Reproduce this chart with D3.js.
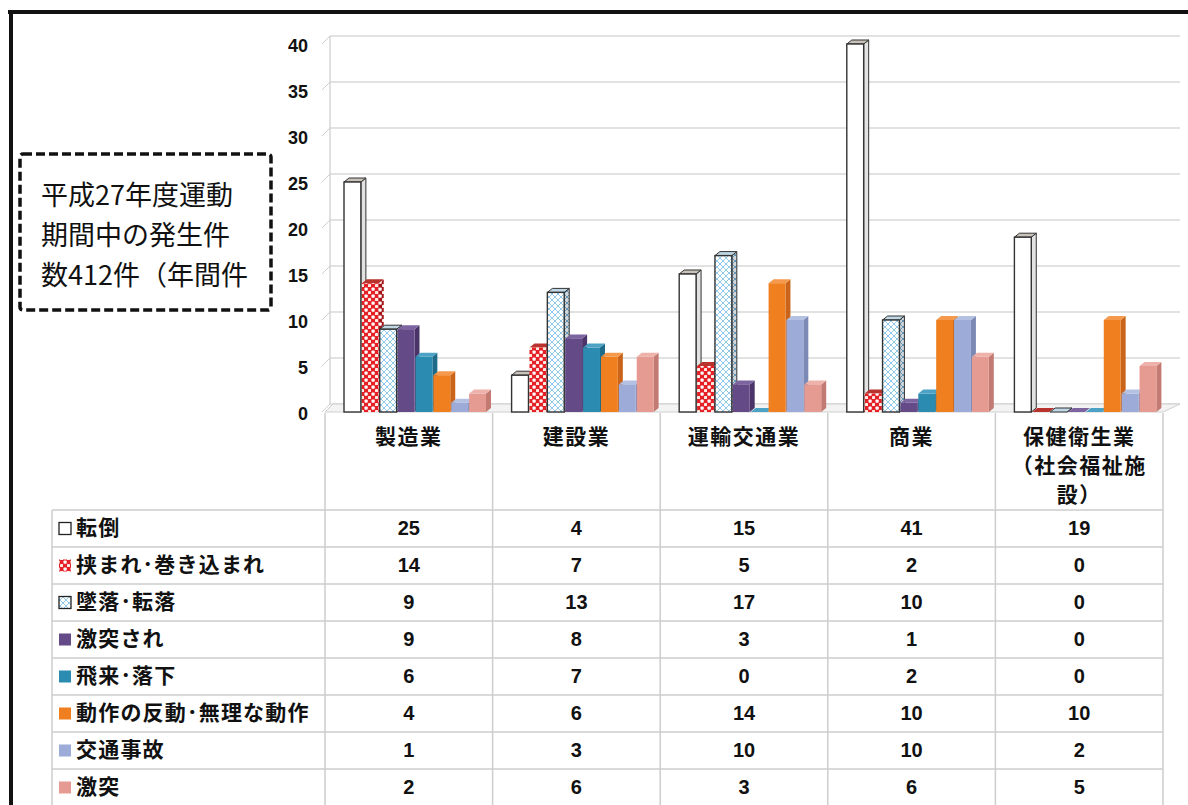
<!DOCTYPE html>
<html>
<head>
<meta charset="utf-8">
<script src="https://cdn.jsdelivr.net/npm/d3@7"></script>
<style>
  body { margin: 0; background: #fff; }
  svg { display: block; }
  text { font-family: "Noto Sans CJK JP", "Liberation Sans", sans-serif; fill: #111; }
  .num { font-family: "Liberation Sans Narrow", "Liberation Sans", "Noto Sans CJK JP", sans-serif; font-weight: bold; }
</style>
</head>
<body>
<svg id="chart" width="1188" height="805"></svg>
<script>
// data
const categories = ["製造業", "建設業", "運輸交通業", "商業", "保健衛生業（社会福祉施設）"];
const categoryLines = [["製造業"], ["建設業"], ["運輸交通業"], ["商業"], ["保健衛生業", "（社会福祉施", "設）"]];
const seriesNames = ["転倒", "挟まれ･巻き込まれ", "墜落･転落", "激突され", "飛来･落下", "動作の反動･無理な動作", "交通事故", "激突"];

const tentou   = [25, 4, 15, 41, 19];
const hasamare = [14, 7, 5, 2, 0];
const tsuiraku = [9, 13, 17, 10, 0];
const gekitotsuSare = [9, 8, 3, 1, 0];
const hirai    = [6, 7, 0, 2, 0];
const dousa    = [4, 6, 14, 10, 10];
const koutsuu  = [1, 3, 10, 10, 2];
const gekitotsu = [2, 6, 3, 6, 5];

const seriesValues = [tentou, hasamare, tsuiraku, gekitotsuSare, hirai, dousa, koutsuu, gekitotsu];

const titleLines = ["平成27年度運動", "期間中の発生件", "数412件（年間件"];

// fill styles: [front, side, top]
const styles = [
  ["#ffffff", "#e2e2e2", "#c9c2bb"],
  ["url(#dots)", "url(#dotsDark)", "#b8322e"],
  ["url(#hatch)", "url(#hatchDark)", "#c0d8e6"],
  ["#654a88", "#4b3468", "#7c64a0"],
  ["#2c8bb1", "#1e6a89", "#4ba2c4"],
  ["#f0801f", "#c9641a", "#f59a4c"],
  ["#9cabd7", "#7b89b5", "#b5c1e2"],
  ["#e59a92", "#c27a72", "#eeb2ab"]
];
const outlined = [true, false, true, false, false, false, false, false];

const svg = d3.select("#chart");
const defs = svg.append("defs");

// red with white dots
function dotPattern(id, bg) {
  const p = defs.append("pattern").attr("id", id).attr("patternUnits", "userSpaceOnUse")
    .attr("width", 7).attr("height", 7);
  p.append("rect").attr("width", 7).attr("height", 7).attr("fill", bg);
  p.append("rect").attr("x", 0.5).attr("y", 0.5).attr("width", 3.2).attr("height", 3.2).attr("rx", 0.8).attr("fill", "#fff");
  p.append("rect").attr("x", 4).attr("y", 4).attr("width", 3.2).attr("height", 3.2).attr("rx", 0.8).attr("fill", "#ffe9e0");
}
dotPattern("dots", "#e41f26");
dotPattern("dotsDark", "#a3161b");

// light blue lattice
function hatchPattern(id, bg, line) {
  const p = defs.append("pattern").attr("id", id).attr("patternUnits", "userSpaceOnUse")
    .attr("width", 6).attr("height", 6);
  p.append("rect").attr("width", 6).attr("height", 6).attr("fill", bg);
  p.append("path").attr("d", "M0,0L6,6M6,0L0,6").attr("stroke", line).attr("stroke-width", 0.9);
}
hatchPattern("hatch", "#ffffff", "#86c3e6");
hatchPattern("hatchDark", "#cfd6dc", "#5c8fae");

// outer frame
svg.append("line").attr("x1", 8).attr("x2", 1188).attr("y1", 12).attr("y2", 12)
  .attr("stroke", "#111").attr("stroke-width", 4);
svg.append("line").attr("x1", 11).attr("x2", 11).attr("y1", 10).attr("y2", 805)
  .attr("stroke", "#111").attr("stroke-width", 4);

// scales
const y = d3.scaleLinear().domain([0, 40]).range([412, 44]).clamp(true);
const x0 = d3.scaleBand().domain(categories).range([325, 1163]);
const x1 = d3.scaleBand().domain(seriesNames).range([19, 162]);
const depth = { dx: 8, dy: -8 };
const barDepth = { dx: 5, dy: -4 };

// back wall + gridlines
const grid = svg.append("g");
grid.selectAll("line.grid").data(y.ticks(8)).join("line")
  .attr("x1", 330).attr("x2", 1180)
  .attr("y1", d => y(d) + depth.dy).attr("y2", d => y(d) + depth.dy)
  .attr("stroke", "#d9d9d9").attr("stroke-width", 1.3);
grid.selectAll("line.tick").data(y.ticks(8)).join("line")
  .attr("x1", 322).attr("x2", 330)
  .attr("y1", d => y(d)).attr("y2", d => y(d) + depth.dy)
  .attr("stroke", "#cfcfcf");
grid.append("line").attr("x1", 330).attr("x2", 330)
  .attr("y1", y(40) + depth.dy).attr("y2", y(0) + depth.dy)
  .attr("stroke", "#d0d0d0").attr("stroke-width", 1.3);

// floor
svg.append("polygon")
  .attr("points", [[325, y(0)], [1163, y(0)], [1163 + 17, y(0) + depth.dy], [325 + depth.dx, y(0) + depth.dy]].join(" "))
  .attr("fill", "#f3f3f3").attr("stroke", "#cfcfcf");

// y labels
svg.append("g").selectAll("text").data(y.ticks(8)).join("text")
  .attr("x", 308).attr("y", d => y(d) + 3)
  .attr("text-anchor", "end").attr("dominant-baseline", "middle")
  .style("font-family", "'Liberation Sans', sans-serif").attr("font-weight", "bold")
  .style("font-size", "18px").text(d => d);

// bars
const barsG = svg.append("g");
categories.forEach((cat, ci) => {
  seriesNames.forEach((s, si) => {
    const v = seriesValues[si][ci];
    const x = x0(cat) + x1(s);
    const w = x1.bandwidth() - 1;
    const yt = y(v), yb = y(0);
    const st = styles[si];
    const stroke = outlined[si] ? "#333" : "none";
    const g = barsG.append("g");
    g.append("polygon")
      .attr("points", [[x + w, yt], [x + w + barDepth.dx, yt + barDepth.dy], [x + w + barDepth.dx, yb + barDepth.dy], [x + w, yb]].join(" "))
      .attr("fill", st[1]).attr("stroke", stroke).attr("stroke-width", 1);
    g.append("polygon")
      .attr("points", [[x, yt], [x + barDepth.dx, yt + barDepth.dy], [x + w + barDepth.dx, yt + barDepth.dy], [x + w, yt]].join(" "))
      .attr("fill", st[2]).attr("stroke", stroke).attr("stroke-width", 1);
    g.append("rect")
      .attr("x", x).attr("y", yt).attr("width", w).attr("height", Math.max(0, yb - yt))
      .attr("fill", st[0]).attr("stroke", stroke).attr("stroke-width", outlined[si] ? 1.4 : 0);
  });
});

// data table
const rowTop = 510, rowH = 37;
const table = svg.append("g");
const lineColor = "#cdcdcd";
d3.range(seriesNames.length + 1).forEach(i => {
  table.append("line").attr("x1", 52).attr("x2", 1163)
    .attr("y1", rowTop + i * rowH).attr("y2", rowTop + i * rowH)
    .attr("stroke", lineColor).attr("stroke-width", 1.5);
});
table.append("line").attr("x1", 52).attr("x2", 52).attr("y1", rowTop).attr("y2", 805)
  .attr("stroke", lineColor).attr("stroke-width", 1.5);
[...categories.map(c => x0(c)), 1163].forEach(xv => {
  table.append("line").attr("x1", xv).attr("x2", xv).attr("y1", 413).attr("y2", 805)
    .attr("stroke", lineColor).attr("stroke-width", 1.5);
});

// category labels
categories.forEach((c, ci) => {
  const cx = x0(c) + x0.bandwidth() / 2;
  table.append("text").attr("x", cx).attr("y", 438)
    .attr("text-anchor", "middle").attr("dominant-baseline", "middle")
    .attr("font-size", 21).attr("font-weight", "bold").attr("letter-spacing", 1.5)
    .selectAll("tspan").data(categoryLines[ci]).join("tspan")
    .attr("x", cx).attr("dy", (d, i) => i === 0 ? 0 : 29).text(d => d);
});

// legend rows
seriesNames.forEach((s, si) => {
  const cy = rowTop + si * rowH + rowH / 2;
  const st = styles[si];
  table.append("rect").attr("x", 59).attr("y", cy - 6).attr("width", 12).attr("height", 12)
    .attr("fill", st[0]).attr("stroke", outlined[si] ? "#222" : "none").attr("stroke-width", 1.3);
  table.append("text").attr("x", 76).attr("y", cy + 1)
    .attr("dominant-baseline", "middle").attr("font-size", 21).attr("font-weight", "bold")
    .attr("letter-spacing", 1.2)
    .text(s);
  categories.forEach((c, ci) => {
    table.append("text").attr("class", "num")
      .attr("x", x0(c) + x0.bandwidth() / 2).attr("y", cy + 1)
      .attr("text-anchor", "middle").attr("dominant-baseline", "middle")
      .attr("font-size", 20).text(seriesValues[si][ci]);
  });
});

// dashed note box
svg.append("rect").attr("x", 20).attr("y", 154).attr("width", 251).attr("height", 156)
  .attr("rx", 3).attr("fill", "#fff").attr("stroke", "#111")
  .attr("stroke-width", 3.5).attr("stroke-dasharray", "9 4");
svg.append("g").selectAll("text").data(titleLines).join("text")
  .attr("x", 41).attr("y", (d, i) => 205 + i * 40)
  .attr("font-size", 27).attr("fill", "#222").text(d => d);
</script>
</body>
</html>
